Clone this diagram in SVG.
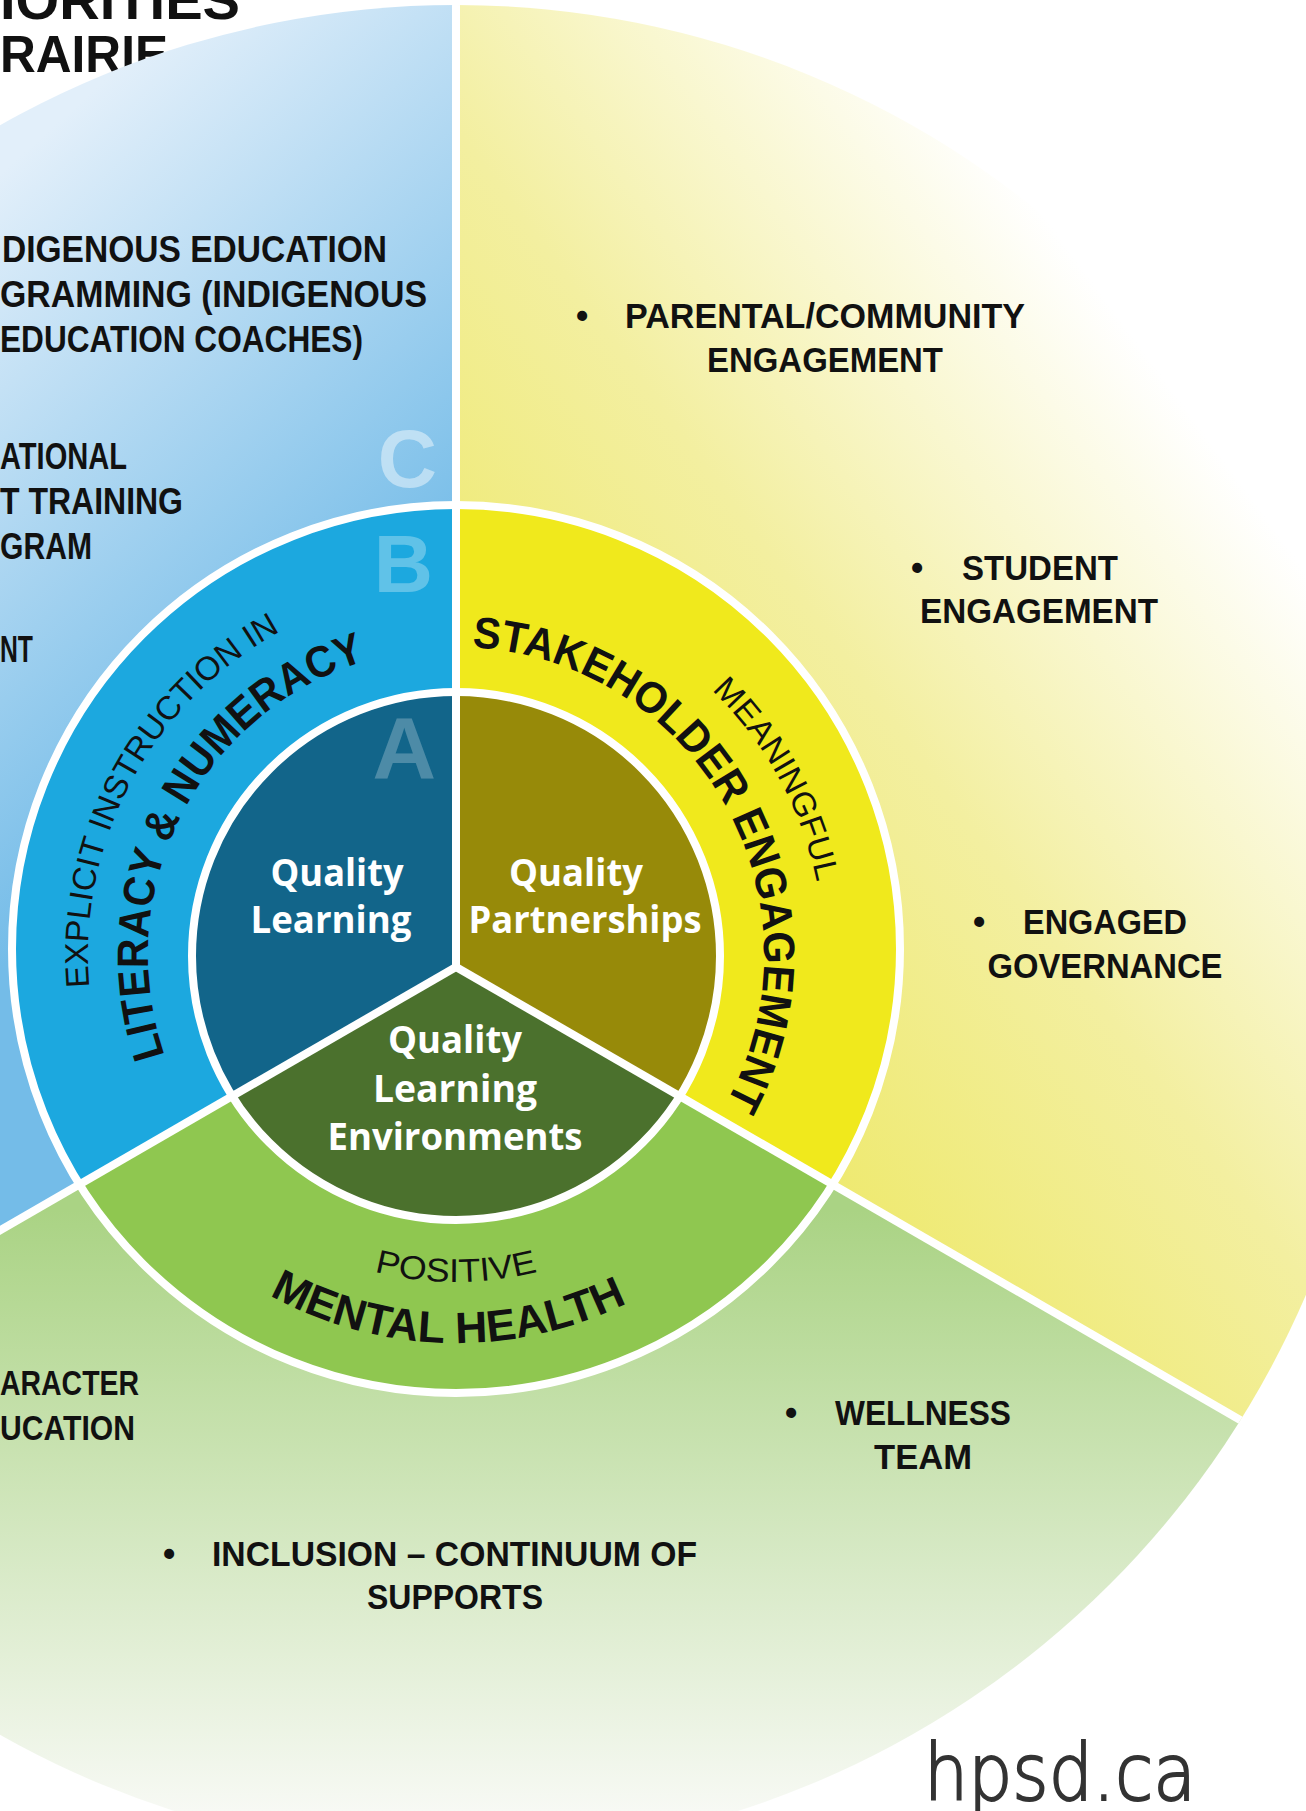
<svg xmlns="http://www.w3.org/2000/svg" xmlns:xlink="http://www.w3.org/1999/xlink" width="1306" height="1811" viewBox="0 0 1306 1811">
  <style>
    .b { font-family: "Liberation Sans", Arial, sans-serif; font-weight: 700; fill: #111; }
    .bl { font-size: 36px; }
    .it { font-size: 35px; }
    .mid { text-anchor: middle; }
    .q { font-family: "Open Sans", "Liberation Sans", sans-serif; font-weight: 700; fill: #fff; font-size: 38px; text-anchor: middle; }
    .arcR { font-family: "Liberation Sans", Arial, sans-serif; font-weight: 400; font-size: 33px; fill: #111; }
    .arcB { font-family: "Liberation Sans", Arial, sans-serif; font-weight: 700; font-size: 44px; fill: #111; }
    .ltr { font-family: "Liberation Sans", Arial, sans-serif; font-weight: 700; fill: #fff; text-anchor: end; }
    .div { stroke: #fff; stroke-width: 8; fill: none; }
  </style>
  <defs>
    <clipPath id="cOuter"><circle cx="456" cy="930" r="925"/></clipPath>
    <clipPath id="cMid"><circle cx="456" cy="949" r="444"/></clipPath>
    <clipPath id="cIn"><circle cx="456" cy="956" r="264"/></clipPath>
    <linearGradient id="gBlue" gradientUnits="userSpaceOnUse" x1="60" y1="120" x2="456" y2="560">
      <stop offset="0" stop-color="#e2effa"/>
      <stop offset="1" stop-color="#74bce8"/>
    </linearGradient>
    <linearGradient id="gYellow" gradientUnits="userSpaceOnUse" x1="500" y1="900" x2="1180" y2="400">
      <stop offset="0" stop-color="#ede862"/>
      <stop offset="0.5" stop-color="#f3efa0"/>
      <stop offset="1" stop-color="#ffffff"/>
    </linearGradient>
    <linearGradient id="gGreen" gradientUnits="userSpaceOnUse" x1="0" y1="1210" x2="0" y2="1811">
      <stop offset="0" stop-color="#aad384"/>
      <stop offset="1" stop-color="#f7f9f4"/>
    </linearGradient>
    <path id="pExplicit" d="M 89.4 987.1 A 368 368 0 0 1 300.5 621.5"/>
    <path id="pLiteracy" d="M 164.8 1055.3 A 308 308 0 0 1 365.9 660.5"/>
    <path id="pStake" d="M 472.1 647.4 A 308 308 0 0 1 727.9 1099.6"/>
    <path id="pMean" d="M 711.6 690.3 A 368 368 0 0 1 822.6 922.9"/>
    <path id="pPos" d="M 344.2 1262.3 A 327 327 0 0 0 567.8 1262.3"/>
    <path id="pMental" d="M 233.5 1272.8 A 388 388 0 0 0 678.5 1272.8"/>
  </defs>

  <rect width="1306" height="1811" fill="#fff"/>

  <g id="title">
    <text class="b" x="0" y="19" font-size="54" textLength="240" lengthAdjust="spacingAndGlyphs">IORITIES</text>
    <text class="b" x="0" y="72" font-size="52" textLength="168" lengthAdjust="spacingAndGlyphs">RAIRIE</text>
  </g>

  <g id="outer-ring" clip-path="url(#cOuter)">
    <polygon id="outer-blue" points="456,967 456,-100 -500,-100 -500,1519" fill="url(#gBlue)"/>
    <polygon id="outer-yellow" points="456,967 456,-100 1500,-100 1500,1570" fill="url(#gYellow)"/>
    <polygon id="outer-green" points="456,967 -500,1519 -500,2000 1500,2000 1500,1570" fill="url(#gGreen)"/>
  </g>

  <g id="middle-ring" clip-path="url(#cMid)">
    <polygon points="456,967 456,-100 -500,-100 -500,1519" fill="#1ca8df"/>
    <polygon points="456,967 456,-100 1500,-100 1500,1570" fill="#f0e91c"/>
    <polygon points="456,967 -500,1519 -500,2000 1500,2000 1500,1570" fill="#8fc750"/>
  </g>
  <circle cx="456" cy="949" r="444" class="div"/>

  <g id="inner-circle" clip-path="url(#cIn)">
    <polygon points="456,967 456,-100 -500,-100 -500,1519" fill="#12658a"/>
    <polygon points="456,967 456,-100 1500,-100 1500,1570" fill="#978a09"/>
    <polygon points="456,967 -500,1519 -500,2000 1500,2000 1500,1570" fill="#4b712d"/>
  </g>
  <circle cx="456" cy="956" r="264" class="div"/>

  <g id="connectors" clip-path="url(#cOuter)">
    <path class="div" d="M456,967 V-10"/>
    <path class="div" d="M456,967 L-500,1519"/>
    <path class="div" d="M456,967 L1500,1570"/>
  </g>

  <g id="letters">
    <text class="ltr" x="437" y="487" font-size="82" fill-opacity="0.45">C</text>
    <text class="ltr" x="433" y="592" font-size="82" fill-opacity="0.3">B</text>
    <text class="ltr" x="436" y="778" font-size="88" fill-opacity="0.25">A</text>
  </g>

  <g id="node-quality-learning">
    <text class="q" x="337" y="886" textLength="133" lengthAdjust="spacingAndGlyphs">Quality</text>
    <text class="q" x="331" y="933" textLength="161" lengthAdjust="spacingAndGlyphs">Learning</text>
  </g>
  <g id="node-quality-partnerships">
    <text class="q" x="576" y="886" textLength="134" lengthAdjust="spacingAndGlyphs">Quality</text>
    <text class="q" x="585" y="933" textLength="233" lengthAdjust="spacingAndGlyphs">Partnerships</text>
  </g>
  <g id="node-quality-environments">
    <text class="q" x="455" y="1053" textLength="134" lengthAdjust="spacingAndGlyphs">Quality</text>
    <text class="q" x="455" y="1102" textLength="164" lengthAdjust="spacingAndGlyphs">Learning</text>
    <text class="q" x="455" y="1150" textLength="255" lengthAdjust="spacingAndGlyphs">Environments</text>
  </g>

  <g id="node-literacy">
    <text class="arcR" textLength="427" lengthAdjust="spacingAndGlyphs"><textPath href="#pExplicit" xlink:href="#pExplicit">EXPLICIT INSTRUCTION IN</textPath></text>
    <text class="arcB" textLength="494" lengthAdjust="spacingAndGlyphs"><textPath href="#pLiteracy" xlink:href="#pLiteracy">LITERACY &amp; NUMERACY</textPath></text>
  </g>
  <g id="node-stakeholder">
    <text class="arcB" textLength="622" lengthAdjust="spacingAndGlyphs"><textPath href="#pStake" xlink:href="#pStake">STAKEHOLDER ENGAGEMENT</textPath></text>
    <text class="arcR" textLength="222" lengthAdjust="spacingAndGlyphs"><textPath href="#pMean" xlink:href="#pMean">MEANINGFUL</textPath></text>
  </g>
  <g id="node-mental-health">
    <text class="arcR" text-anchor="middle" textLength="165" lengthAdjust="spacingAndGlyphs"><textPath href="#pPos" xlink:href="#pPos" startOffset="50%">POSITIVE</textPath></text>
    <text class="arcB" text-anchor="middle" font-size="48" textLength="372" lengthAdjust="spacingAndGlyphs"><textPath href="#pMental" xlink:href="#pMental" startOffset="48.2%">MENTAL HEALTH</textPath></text>
  </g>

  <g id="node-blue-items">
    <text class="b bl" x="2" y="262" textLength="385" lengthAdjust="spacingAndGlyphs">DIGENOUS EDUCATION</text>
    <text class="b bl" x="0" y="307" textLength="427" lengthAdjust="spacingAndGlyphs">GRAMMING (INDIGENOUS</text>
    <text class="b bl" x="0" y="352" textLength="363" lengthAdjust="spacingAndGlyphs">EDUCATION COACHES)</text>
    <text class="b bl" x="0" y="469" textLength="127" lengthAdjust="spacingAndGlyphs">ATIONAL</text>
    <text class="b bl" x="0" y="514" textLength="183" lengthAdjust="spacingAndGlyphs">T TRAINING</text>
    <text class="b bl" x="0" y="559" textLength="92" lengthAdjust="spacingAndGlyphs">GRAM</text>
    <text class="b bl" x="0" y="662" textLength="33" lengthAdjust="spacingAndGlyphs">NT</text>
  </g>

  <g id="node-yellow-items">
    <text class="b it" x="576" y="328">•</text>
    <text class="b it" x="625" y="328" textLength="400" lengthAdjust="spacingAndGlyphs">PARENTAL/COMMUNITY</text>
    <text class="b it mid" x="825" y="372" textLength="236" lengthAdjust="spacingAndGlyphs">ENGAGEMENT</text>
    <text class="b it" x="911" y="580">•</text>
    <text class="b it mid" x="1040" y="580" textLength="156" lengthAdjust="spacingAndGlyphs">STUDENT</text>
    <text class="b it mid" x="1039" y="623" textLength="238" lengthAdjust="spacingAndGlyphs">ENGAGEMENT</text>
    <text class="b it" x="973" y="934">•</text>
    <text class="b it mid" x="1105" y="934" textLength="164" lengthAdjust="spacingAndGlyphs">ENGAGED</text>
    <text class="b it mid" x="1105" y="978" textLength="235" lengthAdjust="spacingAndGlyphs">GOVERNANCE</text>
  </g>

  <g id="node-green-items">
    <text class="b it" x="0" y="1395" textLength="139" lengthAdjust="spacingAndGlyphs">ARACTER</text>
    <text class="b it" x="0" y="1440" textLength="135" lengthAdjust="spacingAndGlyphs">UCATION</text>
    <text class="b it" x="785" y="1425">•</text>
    <text class="b it mid" x="923" y="1425" textLength="176" lengthAdjust="spacingAndGlyphs">WELLNESS</text>
    <text class="b it mid" x="923" y="1469" textLength="98" lengthAdjust="spacingAndGlyphs">TEAM</text>
    <text class="b it" x="163" y="1566">•</text>
    <text class="b it" x="212" y="1566" textLength="485" lengthAdjust="spacingAndGlyphs">INCLUSION – CONTINUUM OF</text>
    <text class="b it mid" x="455" y="1609" textLength="176" lengthAdjust="spacingAndGlyphs">SUPPORTS</text>
  </g>

  <g id="logo">
    <text x="924" y="1800" font-family="DejaVu Sans, sans-serif" font-weight="200" font-size="78" fill="#333" stroke="#333" stroke-width="2" textLength="272" lengthAdjust="spacingAndGlyphs">hpsd.ca</text>
  </g>
</svg>
